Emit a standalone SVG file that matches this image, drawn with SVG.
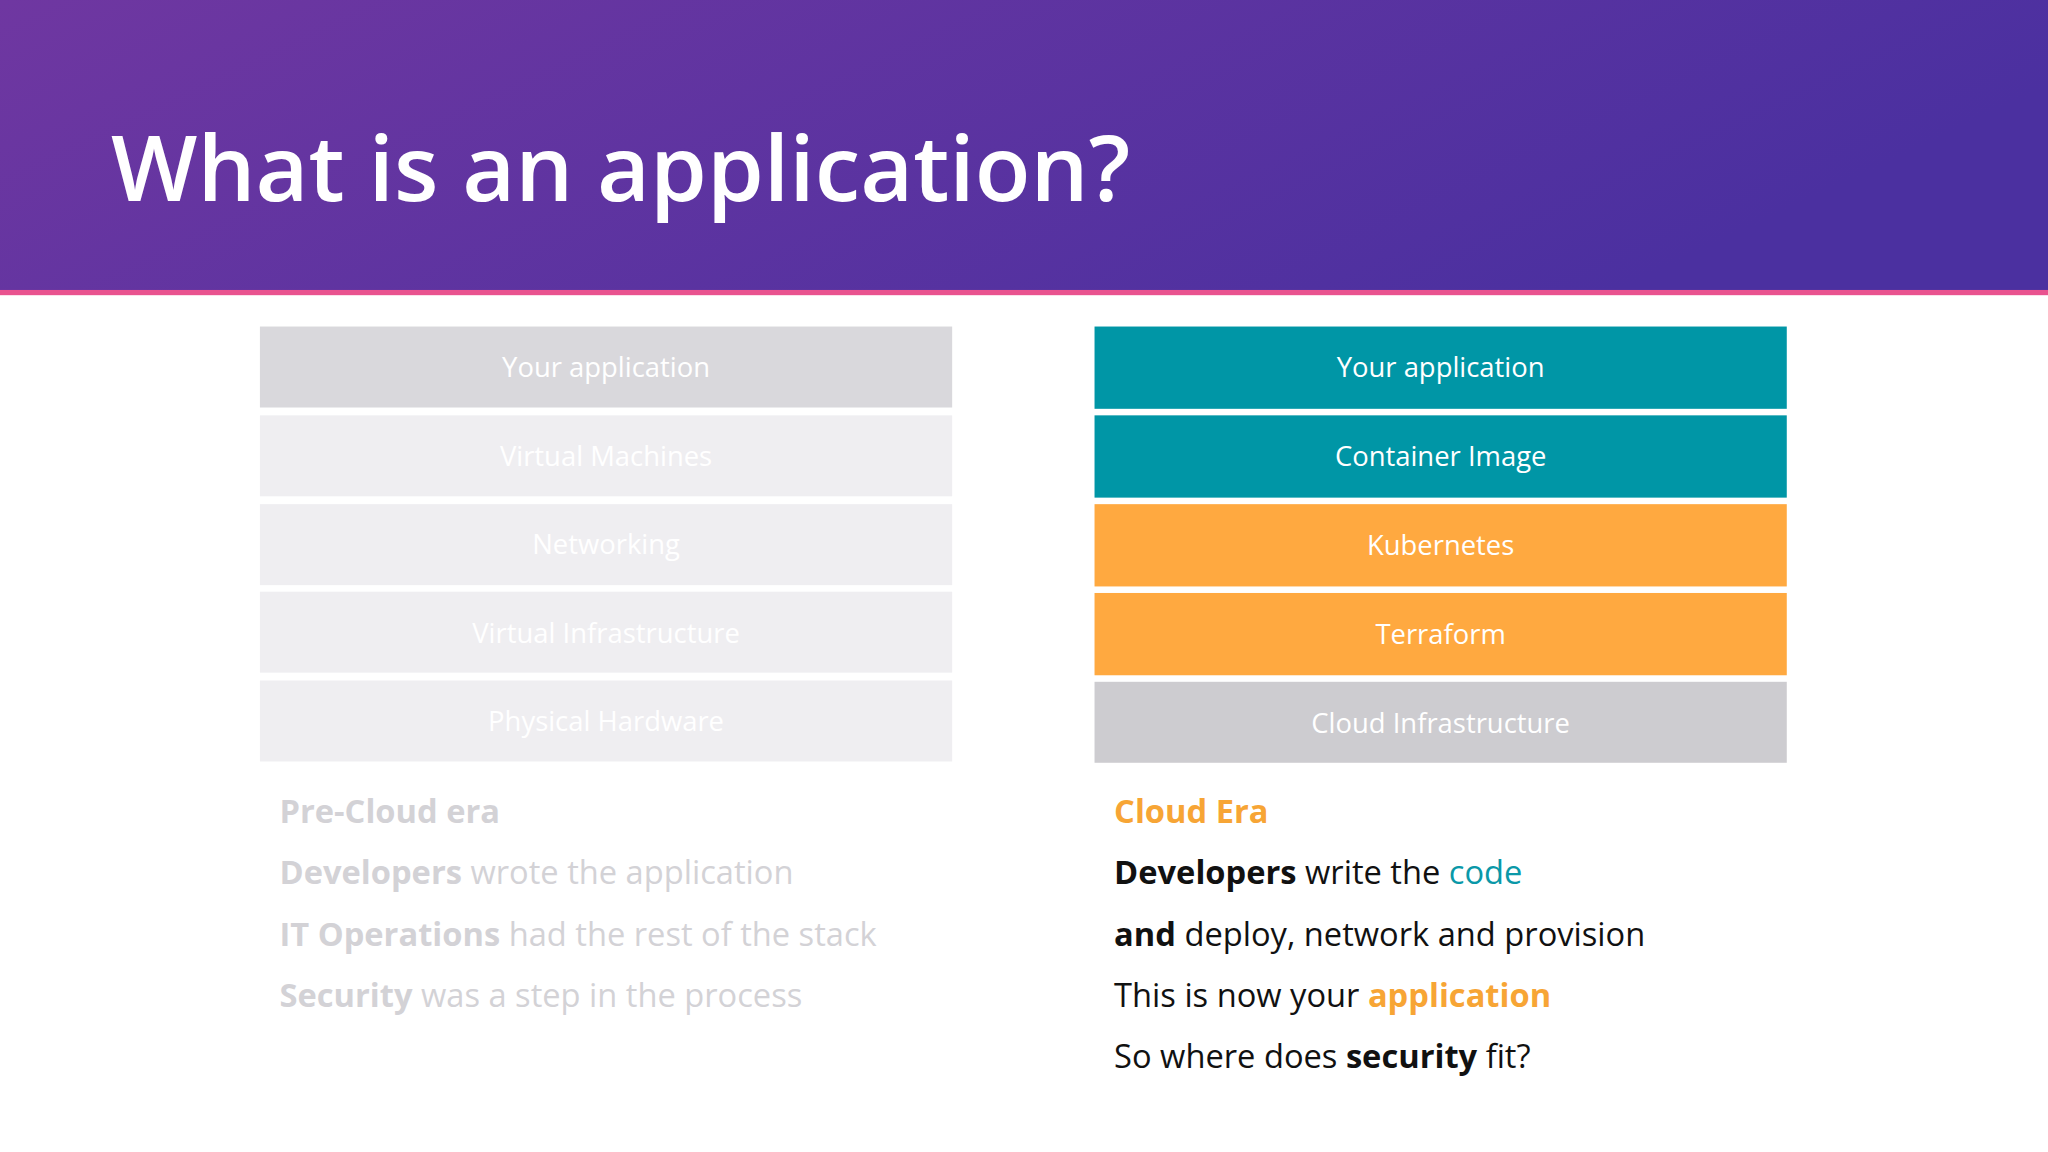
<svg xmlns="http://www.w3.org/2000/svg" width="2048" height="1152" viewBox="0 0 2048 1152">
<defs>
<linearGradient id="hg" x1="0" y1="0" x2="1" y2="0.3"><stop offset="0" stop-color="#6F37A1"/><stop offset="1" stop-color="#4B30A0"/></linearGradient>
<style>
text{font-family:"Open Sans","Noto Sans",sans-serif}
.bt{font-size:21px;fill:#fff;text-anchor:middle}
.l{font-size:25px;fill:#D3D2D6}
.r{font-size:25px;fill:#111}
.b{font-weight:700}
</style>
</defs>
<rect width="2048" height="1152" fill="#fff"/>
<g transform="scale(1.306122)">
<g id="header">
<rect x="0" y="0" width="1568" height="223" fill="url(#hg)"/>
<rect x="0" y="222" width="1568" height="4" fill="#E9538F"/>
<text x="85" y="154" font-size="70" font-weight="600" fill="#fff">What is an application?</text>
</g>
<g id="left-stack">
<rect x="199" y="250" width="530" height="62" fill="#D9D8DC"/><text class="bt" x="464" y="289">Your application</text>
<rect x="199" y="318" width="530" height="62" fill="#EFEEF1"/><text class="bt" x="464" y="357">Virtual Machines</text>
<rect x="199" y="386" width="530" height="62" fill="#EFEEF1"/><text class="bt" x="464" y="424">Networking</text>
<rect x="199" y="453" width="530" height="62" fill="#EFEEF1"/><text class="bt" x="464" y="492">Virtual Infrastructure</text>
<rect x="199" y="521" width="530" height="62" fill="#EFEEF1"/><text class="bt" x="464" y="560">Physical Hardware</text>
</g>
<g id="right-stack">
<rect x="838" y="250" width="530" height="63" fill="#0096A6"/><text class="bt" x="1103" y="289">Your application</text>
<rect x="838" y="318" width="530" height="63" fill="#0096A6"/><text class="bt" x="1103" y="357">Container Image</text>
<rect x="838" y="386" width="530" height="63" fill="#FFA940"/><text class="bt" x="1103" y="425">Kubernetes</text>
<rect x="838" y="454" width="530" height="63" fill="#FFA940"/><text class="bt" x="1103" y="493">Terraform</text>
<rect x="838" y="522" width="530" height="62" fill="#CDCCD0"/><text class="bt" x="1103" y="561">Cloud Infrastructure</text>
</g>
<g id="left-text">
<text class="l b" x="214" y="630">Pre-Cloud era</text>
<text class="l" x="214" y="677"><tspan class="b">Developers</tspan> wrote the application</text>
<text class="l" x="214" y="724"><tspan class="b">IT Operations</tspan> had the rest of the stack</text>
<text class="l" x="214" y="771"><tspan class="b">Security</tspan> was a step in the process</text>
</g>
<g id="right-text">
<text class="r b" x="853" y="630" fill="#F7A535" style="fill:#F7A535">Cloud Era</text>
<text class="r" x="853" y="677"><tspan class="b">Developers</tspan> write the <tspan fill="#0A98A8">code</tspan></text>
<text class="r" x="853" y="724"><tspan class="b">and</tspan> deploy, network and provision</text>
<text class="r" x="853" y="771">This is now your <tspan class="b" fill="#F7A535">application</tspan></text>
<text class="r" x="853" y="818">So where does <tspan class="b">security</tspan> fit?</text>
</g>
</g>
</svg>
